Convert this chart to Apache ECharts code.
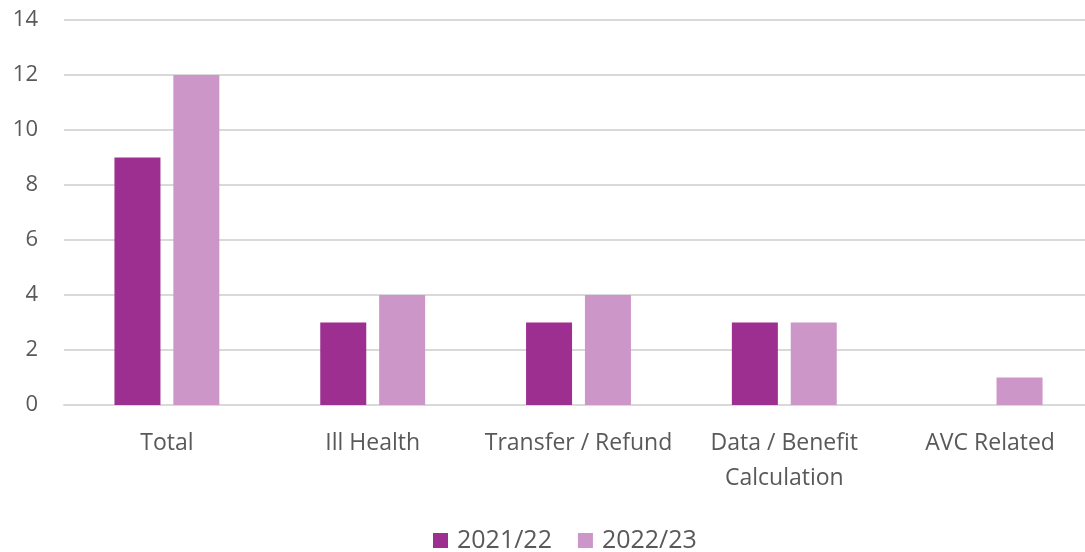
<!DOCTYPE html>
<html>
<head>
<meta charset="utf-8">
<script src="https://cdn.jsdelivr.net/npm/echarts@6/dist/echarts.min.js"></script>
<style>
html, body { margin: 0; padding: 0; background: #fff; }
#chart { width: 1085px; height: 552px; }
</style>
</head>
<body>
<div id="chart"></div>
<script>
var categories = ['Total', 'Ill Health', 'Transfer / Refund', 'Data / Benefit\nCalculation', 'AVC Related'];
var seriesNames = ['2021/22', '2022/23'];
var values2122 = [9, 3, 3, 3, 0];
var values2223 = [12, 4, 4, 3, 1];

var font = '"Open Sans", Lato, sans-serif';
var chart = echarts.init(document.getElementById('chart'));
chart.setOption({
    animation: false,
    textStyle: { fontFamily: font },
    color: ['#9C2F8F', '#CC96C8'],
    grid: { left: 64, width: 1029, top: 20, height: 385, outerBoundsMode: 'none' },
    legend: {
        bottom: -6,
        left: 428,
        itemWidth: 15,
        itemHeight: 15,
        itemGap: 26,
        icon: 'rect',
        textStyle: { fontSize: 25, color: '#595959', fontFamily: font, padding: [0, 0, 0, 4] },
        data: seriesNames
    },
    xAxis: {
        type: 'category',
        data: categories,
        axisLine: { lineStyle: { color: '#d9d9d9', width: 2 } },
        axisTick: { show: false },
        axisLabel: { fontSize: 23, color: '#595959', margin: 21, lineHeight: 35, interval: 0 }
    },
    yAxis: {
        type: 'value',
        min: 0,
        max: 14,
        interval: 2,
        axisLine: { show: false },
        axisTick: { show: false },
        axisLabel: { fontSize: 22, color: '#595959', margin: 26 },
        splitLine: { lineStyle: { color: '#d9d9d9', width: 2 } }
    },
    series: [
        {
            name: seriesNames[0],
            type: 'bar',
            data: values2122,
            barWidth: 46,
            barGap: '28%'
        },
        {
            name: seriesNames[1],
            type: 'bar',
            data: values2223,
            barWidth: 46
        }
    ]
});
</script>
</body>
</html>
